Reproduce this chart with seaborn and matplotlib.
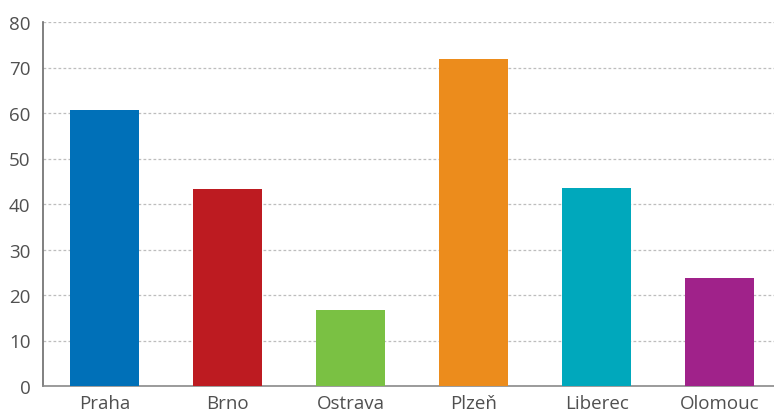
import pandas as pd
import numpy as np

import matplotlib
matplotlib.use("Agg")
import matplotlib.pyplot as plt
import seaborn as sns

cities = ["Praha", "Brno", "Ostrava", "Plzeň", "Liberec", "Olomouc"]
values = [60.6, 43.3, 16.7, 71.8, 43.5, 23.8]
colors = ["#0070b8", "#bd1b21", "#7ac143", "#ec8c1c", "#00a8bc", "#a0228a"]
yticks = [0, 10, 20, 30, 40, 50, 60, 70, 80]

df = pd.DataFrame({"city": cities, "value": values})

sns.set_theme(style="white")
plt.rcParams["font.family"] = ["Open Sans", "DejaVu Sans"]

fig = plt.figure(figsize=(7.74, 4.14), dpi=100)
ax = fig.add_axes([43 / 774, 1 - 387 / 414, 1 - 43 / 774, (387 - 23) / 414])

sns.barplot(
  data=df, x="city", y="value", hue="city",
  palette=colors, width=0.56, saturation=1,
  linewidth=0, legend=False, ax=ax, zorder=3
)

ax.set_ylim(0, 80)
ax.set_xlim(-0.5, 5.44)
ax.set_yticks(yticks)
ax.yaxis.grid(True, linestyle=(0, (2.2, 1.8)), color="#bdbdbd", linewidth=0.9, zorder=0)
ax.xaxis.grid(False)

for s in ["top", "right"]:
  ax.spines[s].set_visible(False)
ax.spines["left"].set_color("#6b6b6b")
ax.spines["bottom"].set_color("#8a8a8a")
ax.spines["left"].set_linewidth(1.2)
ax.spines["bottom"].set_linewidth(1.2)

ax.tick_params(axis="both", length=0, labelsize=13.5, labelcolor="#505050")
ax.tick_params(axis="y", pad=9)
ax.tick_params(axis="x", pad=6)
ax.set_xlabel("")
ax.set_ylabel("")

fig.savefig("out.png", dpi=100)
